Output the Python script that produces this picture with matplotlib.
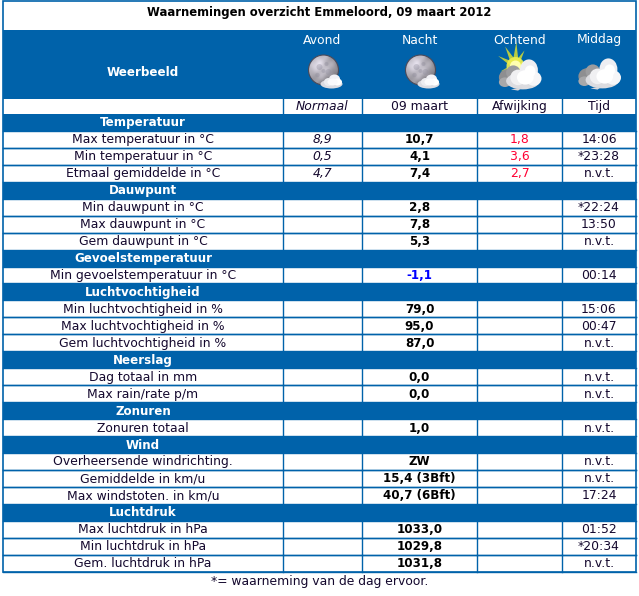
import numpy as np
import matplotlib
matplotlib.use("Agg")
import matplotlib.pyplot as plt
from matplotlib.patches import Rectangle, Circle, Ellipse, Polygon

# ---------------- data ----------------
title = "Waarnemingen overzicht Emmeloord, 09 maart 2012"
periods = ["Avond", "Nacht", "Ochtend", "Middag"]
period_icons = ["moon", "moon", "sun", "cloud"]
sub_headers = ["Normaal", "09 maart", "Afwijking", "Tijd"]
section_names = ["Temperatuur", "Dauwpunt", "Gevoelstemperatuur", "Luchtvochtigheid",
                 "Neerslag", "Zonuren", "Wind", "Luchtdruk"]
row_section = [0, 0, 0, 1, 1, 1, 2, 3, 3, 3, 4, 4, 5, 6, 6, 6, 7, 7, 7]
row_labels = ["Max temperatuur in °C", "Min temperatuur in °C", "Etmaal gemiddelde in °C",
              "Min dauwpunt in °C", "Max dauwpunt in °C", "Gem dauwpunt in °C",
              "Min gevoelstemperatuur in °C",
              "Min luchtvochtigheid in %", "Max luchtvochtigheid in %", "Gem luchtvochtigheid in %",
              "Dag totaal in mm", "Max rain/rate p/m",
              "Zonuren totaal",
              "Overheersende windrichting.", "Gemiddelde in km/u", "Max windstoten. in km/u",
              "Max luchtdruk in hPa", "Min luchtdruk in hPa", "Gem. luchtdruk in hPa"]
normaal = ["8,9", "0,5", "4,7", "", "", "", "", "", "", "", "", "", "", "", "", "", "", "", ""]
values = ["10,7", "4,1", "7,4", "2,8", "7,8", "5,3", "-1,1", "79,0", "95,0", "87,0",
          "0,0", "0,0", "1,0", "ZW", "15,4 (3Bft)", "40,7 (6Bft)", "1033,0", "1029,8", "1031,8"]
afwijking = ["1,8", "3,6", "2,7", "", "", "", "", "", "", "", "", "", "", "", "", "", "", "", ""]
tijd = ["14:06", "*23:28", "n.v.t.", "*22:24", "13:50", "n.v.t.", "00:14", "15:06", "00:47",
        "n.v.t.", "n.v.t.", "n.v.t.", "n.v.t.", "n.v.t.", "n.v.t.", "17:24", "01:52", "*20:34", "n.v.t."]
footnote = "*= waarneming van de dag ervoor."

# ---------------- layout ----------------
W, H = 639, 596
BLUE = "#0062AA"
TXT = "#14082e"
col_edges = [3, 283, 362, 477, 562, 636]
col_centers = [(col_edges[i] + col_edges[i + 1]) / 2 for i in range(5)]
top = 1
head_top, head_bot = 30, 98.5
sub_bot = 114
rh = 16.95
FS = 8.9    # regular text
FB = 8.4    # bold text

fig = plt.figure(figsize=(W / 100, H / 100), dpi=100)
ax = fig.add_axes([0, 0, 1, 1])
ax.set_xlim(0, W)
ax.set_ylim(H, 0)
ax.axis("off")

# title
ax.text(W / 2, 12.5, title, ha="center", va="center", fontsize=FB, fontweight="bold",
        color="#000000")

# blue header
ax.add_patch(Rectangle((col_edges[0], head_top), col_edges[-1] - col_edges[0], head_bot - head_top,
                       facecolor=BLUE, edgecolor="none", zorder=1))
ax.text(col_centers[0], 72, "Weerbeeld", ha="center", va="center", fontsize=FB + 0.2,
        fontweight="bold", color="white")
for i, p in enumerate(periods):
    ax.text(col_centers[i + 1], 40, p, ha="center", va="center", fontsize=FS, color="white")


def cloud(cx, cy, s, z=5):
    # gray back part (left)
    for dx, dy, w, h, c in [(-10, 2, 16, 14, "#8e8e90"), (-6, -2, 12, 12, "#9c9c9e"),
                            (-13, 6, 10, 8, "#a8a8aa")]:
        ax.add_patch(Ellipse((cx + dx * s, cy + dy * s), w * s, h * s,
                             facecolor=c, edgecolor="none", zorder=z))
    # white body
    for dx, dy, w, h, c in [(2, 5, 28, 14, "#dcdce0"), (7, -4, 15, 18, "#eeeef2"),
                            (-2, 2, 13, 13, "#f0f0f2"), (11, 3, 13, 12, "#f6f6f8"),
                            (4, 2, 14, 12, "#ffffff"), (8, -3, 9, 10, "#ffffff")]:
        ax.add_patch(Ellipse((cx + dx * s, cy + dy * s), w * s, h * s,
                             facecolor=c, edgecolor="none", zorder=z + 1))
    # tail at bottom-left
    ax.add_patch(Polygon([(cx - 8 * s, cy + 12 * s), (cx + 2 * s, cy + 10 * s),
                          (cx - 2 * s, cy + 13 * s)], closed=True,
                         facecolor="#d8d8dc", edgecolor="none", zorder=z + 1))


def moon(cx, cy):
    r = 15
    n = 64
    yy, xx = np.mgrid[-1:1:n * 1j, -1:1:n * 1j]
    d = np.sqrt((xx + 0.35) ** 2 + (yy + 0.35) ** 2)
    shade = 0.93 - 0.45 * np.clip(d / 1.6, 0, 1)
    tex = (np.sin(xx * 9) * np.cos(yy * 7) + np.sin((xx + yy) * 5)) * 0.03
    img = np.clip(shade + tex, 0, 1)
    rgb = np.dstack([img * 0.97, img * 0.95, img * 1.0])
    im = ax.imshow(rgb, extent=(cx - r, cx + r, cy + r, cy - r), zorder=3, interpolation="bilinear")
    im.set_clip_path(Circle((cx, cy), r, transform=ax.transData))
    ax.add_patch(Circle((cx, cy), r, facecolor="none", edgecolor="#4a4a5a", lw=0.8, zorder=4))
    for dx, dy, rr in [(-4, -3, 3), (3, -6, 2), (5, 2, 3), (-6, 5, 2.2), (0, 1, 2)]:
        ax.add_patch(Circle((cx + dx, cy + dy), rr, facecolor="#8a8898", alpha=0.35,
                            edgecolor="none", zorder=4))
    # small cloud lower right
    for dx, dy, w, h, c in [(8, 14, 22, 9, "#dcdce2"), (11, 9, 11, 9, "#f2f2f6"),
                            (5, 12, 9, 8, "#ececf0"), (14, 12, 9, 7, "#ffffff"),
                            (9, 12, 10, 7, "#fafafc")]:
        ax.add_patch(Ellipse((cx + dx, cy + dy), w, h, facecolor=c, edgecolor="none", zorder=5))


def sun(cx, cy):
    sx, sy = cx - 4, cy - 6
    for ang, L, wdt in [(88, 24, 3.5), (118, 22, 3.5), (150, 20, 3), (60, 18, 3),
                        (200, 16, 3), (-75, 22, 3), (-40, 16, 3), (20, 14, 3), (240, 14, 2.5)]:
        a = np.deg2rad(ang)
        tip = (sx + L * np.cos(a), sy - L * np.sin(a))
        pa = (sx + wdt * np.cos(a + np.pi / 2), sy - wdt * np.sin(a + np.pi / 2))
        pb = (sx - wdt * np.cos(a + np.pi / 2), sy + wdt * np.sin(a + np.pi / 2))
        ax.add_patch(Polygon([pa, tip, pb], closed=True, facecolor="#e6e628", edgecolor="none",
                             alpha=0.8, zorder=3))
    ax.add_patch(Circle((sx, sy), 9, facecolor="#eeee50", edgecolor="none", alpha=0.9, zorder=3))
    ax.add_patch(Circle((sx, sy), 5.5, facecolor="#ffffb0", edgecolor="none", zorder=3))
    cloud(cx + 1, cy + 3, 1.2)


icon_y = 72
for i, kind in enumerate(period_icons):
    cx = col_centers[i + 1]
    if kind == "moon":
        moon(cx + 1, icon_y - 2)
    elif kind == "sun":
        sun(cx, icon_y)
    else:
        cloud(cx + 1, icon_y + 2, 1.2)

# sub header row
for i, s in enumerate(sub_headers):
    ax.text(col_centers[i + 1], (head_bot + sub_bot) / 2 + 0.5, s, ha="center", va="center",
            fontsize=FS, color=TXT, style="italic" if i == 0 else "normal")

# body rows
y = sub_bot
prev = -1
data_spans = [(head_bot, sub_bot)]
for k, lab in enumerate(row_labels):
    sec = row_section[k]
    if sec != prev:
        ax.add_patch(Rectangle((col_edges[0], y), col_edges[-1] - col_edges[0], rh,
                               facecolor=BLUE, edgecolor="none", zorder=2))
        ax.text(col_centers[0], y + rh / 2 + 0.5, section_names[sec], ha="center", va="center",
                fontsize=FB + 0.2, fontweight="bold", color="white", zorder=3)
        y += rh
        prev = sec
    yc = y + rh / 2 + 0.5
    ax.text(col_centers[0], yc, lab, ha="center", va="center", fontsize=FS, color=TXT, zorder=3)
    ax.text(col_centers[1], yc, normaal[k], ha="center", va="center", fontsize=FS, color=TXT,
            style="italic", zorder=3)
    vcol = "#0000ff" if values[k].startswith("-") else "#000000"
    ax.text(col_centers[2], yc, values[k], ha="center", va="center", fontsize=FB + 0.2,
            fontweight="bold", color=vcol, zorder=3)
    ax.text(col_centers[3], yc, afwijking[k], ha="center", va="center", fontsize=FS,
            color="#ff0033", zorder=3)
    ax.text(col_centers[4], yc, tijd[k], ha="center", va="center", fontsize=FS, color=TXT, zorder=3)
    ax.plot([col_edges[0], col_edges[-1]], [y, y], color=BLUE, lw=1.0, zorder=1.5)
    ax.plot([col_edges[0], col_edges[-1]], [y + rh, y + rh], color=BLUE, lw=1.0, zorder=1.5)
    data_spans.append((y, y + rh))
    y += rh
table_bot = y

# vertical lines in white rows
for (y0, y1) in data_spans:
    for xe in col_edges[1:-1]:
        ax.plot([xe, xe], [y0, y1], color=BLUE, lw=1.0, zorder=1.5)

# outer border
ax.add_patch(Rectangle((col_edges[0], top), col_edges[-1] - col_edges[0], table_bot - top,
                       facecolor="none", edgecolor=BLUE, lw=1.2, zorder=6))

ax.text(W / 2, table_bot + 10, footnote, ha="center", va="center", fontsize=FS, color=TXT)

fig.savefig("out.png", dpi=100)
